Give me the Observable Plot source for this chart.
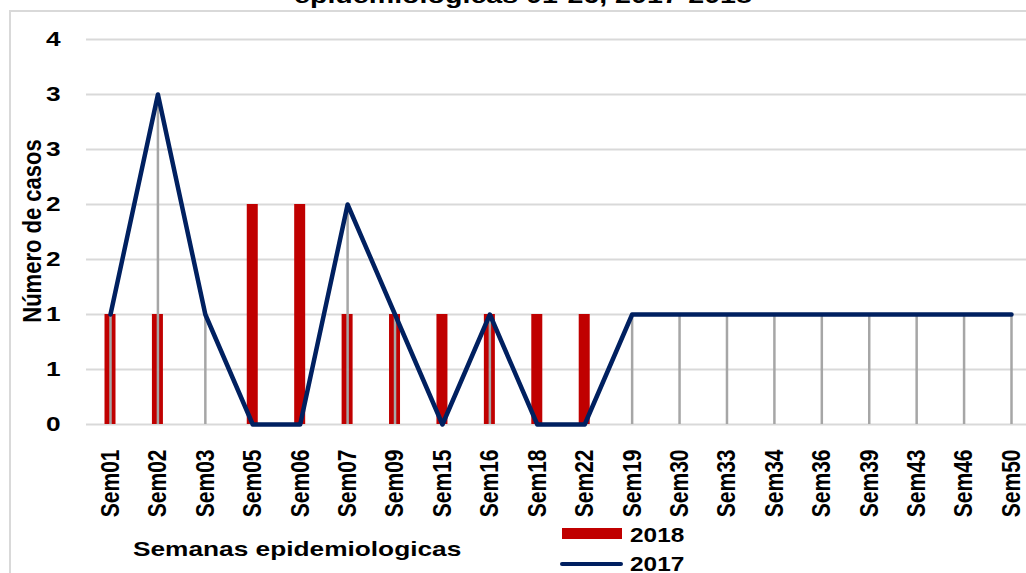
<!DOCTYPE html>
<html>
<head>
<meta charset="utf-8">
<script src="https://cdn.jsdelivr.net/npm/d3@7"></script>
<script src="https://cdn.jsdelivr.net/npm/@observablehq/plot@0.6"></script>
<style>
  html, body { margin: 0; padding: 0; background: #fff; }
  #wrap { position: relative; width: 1026px; height: 573px; overflow: hidden; font-family: "Liberation Sans", Arial, sans-serif; font-weight: bold; color: #000; }
  #frame { position: absolute; left: 9px; top: 10px; width: 1100px; height: 700px; border-top: 2px solid #d9d9d9; border-left: 2px solid #d9d9d9; }
  #chart { position: absolute; left: 0; top: 0; }
  .txt { position: absolute; white-space: nowrap; line-height: 1; transform-origin: left center; }
</style>
</head>
<body>
<div id="wrap">
  <div id="frame"></div>
  <div id="chart"></div>
  <div class="txt" id="title" style="left:294px; top:-15px; font-size:22px; transform:scaleX(1.3);">epidemiologicas 01-26, 2017-2018</div>
  <div class="txt" id="ytitle" style="left:33px; top:231px; font-size:22px; transform-origin:center center; transform:translate(-50%,-50%) rotate(-90deg) scaleY(1.2);">Número de casos</div>
  <div class="txt" id="xtitle" style="left:133px; top:538px; font-size:21px; transform:scaleX(1.25);">Semanas epidemiologicas</div>
  <div style="position:absolute; left:562px; top:528px; width:60px; height:11px; background:#C00000;"></div>
  <div class="txt" style="left:630px; top:525px; font-size:20px; transform:scaleX(1.22);">2018</div>
  <div style="position:absolute; left:560px; top:562px; width:63px; height:4px; border-radius:2px; background:#002060;"></div>
  <div class="txt" style="left:630px; top:554px; font-size:20px; transform:scaleX(1.22);">2017</div>
</div>
<script>
const weeks = ["Sem01","Sem02","Sem03","Sem05","Sem06","Sem07","Sem09","Sem15","Sem16","Sem18","Sem22","Sem19","Sem30","Sem33","Sem34","Sem36","Sem39","Sem43","Sem46","Sem50"];
const cases2018 = [1,1,0,2,2,1,1,1,1,1,1,0,0,0,0,0,0,0,0,0];
const cases2017 = [1,3,1,0,0,2,1,0,1,0,0,1,1,1,1,1,1,1,1,1];
const yTickValues = [0,0.5,1,1.5,2,2.5,3,3.5];
const yTickLabels = ["0","1","1","2","2","3","3","4"];

const data = weeks.map((w, i) => ({week: w, y2018: cases2018[i], y2017: cases2017[i]}));
const step = (1011 - 110) / (weeks.length - 1);

const chart = Plot.plot({
  width: 1026,
  height: 573,
  marginTop: 39,
  marginBottom: 149,
  marginLeft: 86,
  marginRight: 0,
  style: {fontFamily: "'Liberation Sans', Arial, sans-serif", fontSize: "20px", fontWeight: "bold", color: "#000", background: "transparent", overflow: "visible"},
  x: {type: "band", domain: weeks, range: [110 - step / 2, 1011 + step / 2], padding: 0, round: false, tickRotate: -90, tickSize: 0, tickPadding: 25, label: null},
  y: {domain: [0, 3.5], range: [424, 39], ticks: yTickValues, tickFormat: d => yTickLabels[yTickValues.indexOf(d)], tickSize: 0, tickPadding: 26, label: null},
  marks: [
    Plot.ruleY(yTickValues, {stroke: "#d9d9d9", strokeWidth: 2}),
    Plot.barY(data.filter(d => d.y2018 > 0), {x: "week", y: "y2018", fill: "#C00000", insetLeft: (step - 11) / 2, insetRight: (step - 11) / 2}),
    Plot.ruleX(data.filter(d => d.y2017 > 0), {x: "week", y1: 0, y2: "y2017", stroke: "#A6A6A6", strokeWidth: 2.5}),
    Plot.line(data, {x: "week", y: "y2017", stroke: "#002060", strokeWidth: 4.5, strokeLinejoin: "round", strokeLinecap: "round"})
  ]
});
// stretch tick label glyphs like the (horizontally stretched) reference
chart.querySelectorAll("g[aria-label='x-axis tick label'] text").forEach(el => {
  el.setAttribute("font-size", "21");
  el.setAttribute("transform", (el.getAttribute("transform") || "") + " scale(1,1.25)");
});
chart.querySelectorAll("g[aria-label='y-axis tick label'] text").forEach(el => {
  el.setAttribute("font-size", "21");
  el.setAttribute("transform", (el.getAttribute("transform") || "") + " scale(1.25,1)");
});
document.getElementById("chart").appendChild(chart);
</script>
</body>
</html>
